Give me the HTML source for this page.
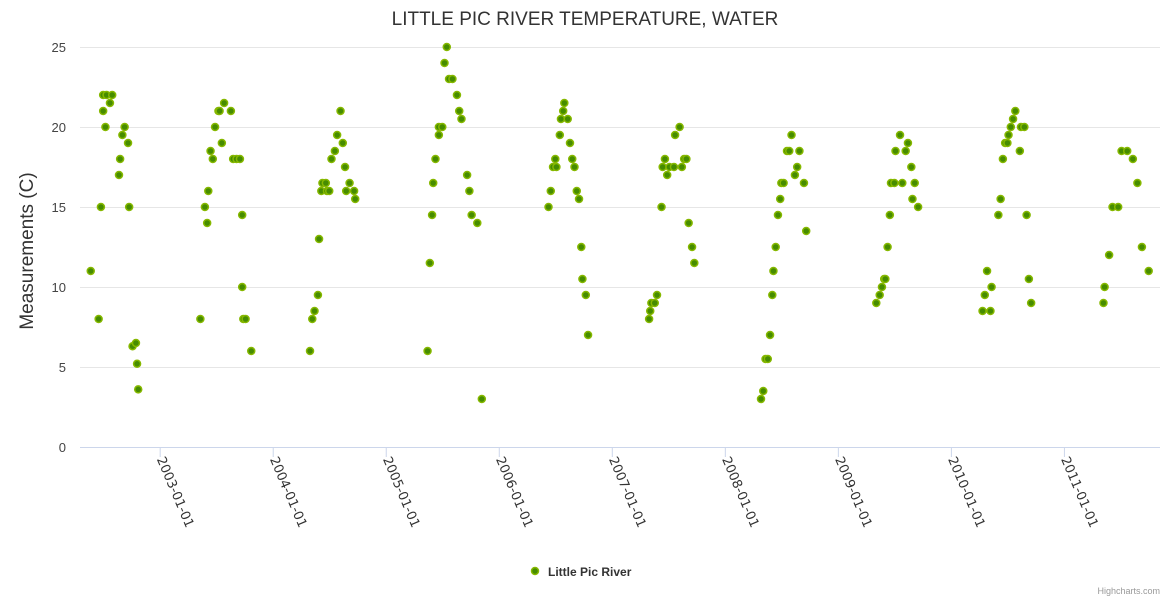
<!DOCTYPE html>
<html><head><meta charset="utf-8"><style>
body{margin:0;background:#fff;font-family:"Liberation Sans",sans-serif}
svg text{font-family:"Liberation Sans",sans-serif}
</style></head><body>
<svg id="chart" width="1170" height="600" xmlns="http://www.w3.org/2000/svg">
<text x="585" y="25" text-anchor="middle" font-size="19" fill="#333">LITTLE PIC RIVER TEMPERATURE, WATER</text>
<text transform="translate(33,251) rotate(-90)" text-anchor="middle" font-size="19" fill="#333">Measurements (C)</text>
<g id="grid"></g>
<g id="yt"></g>
<g id="xt"></g>
<g id="pts"></g>
<g>
<circle cx="535" cy="571" r="3.5" fill="#468c00" stroke="#86b800" stroke-width="1.5"/>
<text x="548" y="576" font-size="12" font-weight="bold" fill="#333">Little Pic River</text>
</g>
<text x="1160" y="594" text-anchor="end" font-size="9" fill="#999">Highcharts.com</text>
</svg>
<script>
const yTicks=[0,5,10,15,20,25];
const xTickYears=[2003,2004,2005,2006,2007,2008,2009,2010,2011];
const xTickLabels=["2003-01-01","2004-01-01","2005-01-01","2006-01-01","2007-01-01","2008-01-01","2009-01-01","2010-01-01","2011-01-01"];
const dates=[2002.39,2002.46,2002.48,2002.50,2002.50,2002.53,2002.58,2002.56,2002.52,2002.64,2002.65,2002.67,2002.69,2002.72,2002.73,2002.76,2002.79,2002.80,2002.81,
2003.36,2003.40,2003.42,2003.43,2003.45,2003.47,2003.49,2003.52,2003.53,2003.57,2003.55,2003.63,2003.65,2003.68,2003.71,2003.73,2003.73,2003.74,2003.76,2003.81,
2004.33,2004.35,2004.37,2004.40,2004.41,2004.43,2004.44,2004.47,2004.48,2004.50,2004.52,2004.55,2004.57,2004.60,2004.62,2004.64,2004.65,2004.68,2004.72,2004.73,
2005.37,2005.39,2005.41,2005.42,2005.44,2005.47,2005.47,2005.50,2005.52,2005.54,2005.56,2005.59,2005.63,2005.65,2005.67,2005.72,2005.74,2005.76,2005.81,2005.85,
2006.44,2006.46,2006.48,2006.51,2006.50,2006.54,2006.55,2006.61,2006.57,2006.58,2006.63,2006.65,2006.67,2006.69,2006.71,2006.73,2006.74,2006.77,2006.79,
2007.33,2007.34,2007.35,2007.38,2007.40,2007.44,2007.45,2007.47,2007.49,2007.51,2007.55,2007.56,2007.60,2007.62,2007.64,2007.66,2007.68,2007.71,2007.73,
2008.32,2008.34,2008.36,2008.38,2008.40,2008.42,2008.43,2008.45,2008.47,2008.49,2008.50,2008.52,2008.55,2008.57,2008.59,2008.62,2008.64,2008.66,2008.70,2008.72,
2009.34,2009.37,2009.39,2009.41,2009.42,2009.44,2009.46,2009.47,2009.50,2009.51,2009.60,2009.55,2009.57,2009.62,2009.65,2009.68,2009.66,2009.71,
2010.28,2010.35,2010.30,2010.32,2010.36,2010.42,2010.44,2010.46,2010.48,2010.50,2010.51,2010.53,2010.55,2010.57,2010.61,2010.62,2010.65,2010.67,2010.69,2010.71,
2011.35,2011.36,2011.40,2011.43,2011.48,2011.51,2011.56,2011.61,2011.65,2011.69,2011.75];
const temps=[11,8,15,21,22,22,22,21.5,20,17,18,19.5,20,19,15,6.3,6.5,5.2,3.6,
8,15,14,16,18.5,18,20,21,21,21.5,19,21,18,18,18,14.5,10,8,8,6,
6,8,8.5,9.5,13,16,16.5,16.5,16,16,18,18.5,19.5,21,19,17.5,16,16.5,16,15.5,
6,11.5,14.5,16.5,18,19.5,20,20,24,25,23,23,22,21,20.5,17,16,14.5,14,3,
15,16,17.5,17.5,18,19.5,20.5,20.5,21,21.5,19,18,17.5,16,15.5,12.5,10.5,9.5,7,
8,8.5,9,9,9.5,15,17.5,18,17,17.5,17.5,19.5,20,17.5,18,18,14,12.5,11.5,
3,3.5,5.5,5.5,7,9.5,11,12.5,14.5,15.5,16.5,16.5,18.5,18.5,19.5,17,17.5,18.5,16.5,13.5,
9,9.5,10,10.5,10.5,12.5,14.5,16.5,16.5,18.5,18.5,19.5,16.5,19,17.5,16.5,15.5,15,
8.5,8.5,9.5,11,10,14.5,15.5,18,19,19,19.5,20,20.5,21,18.5,20,20,14.5,10.5,9,
9,10,12,15,15,18.5,18.5,18,16.5,12.5,11];
const NS="http://www.w3.org/2000/svg";
const X0=80,X1=1160,T0=2002.295,T1=2011.85,Y0=447,Y1=47,V0=0,V1=25;
function xs(t){return X0+(t-T0)/(T1-T0)*(X1-X0);}
function ys(v){return Y0-(v-V0)/(V1-V0)*(Y0-Y1);}
function mk(tag,a,p){const e=document.createElementNS(NS,tag);for(const k in a)e.setAttribute(k,a[k]);p.appendChild(e);return e;}
const grid=document.getElementById('grid'),yt=document.getElementById('yt'),xt=document.getElementById('xt'),pts=document.getElementById('pts');
yTicks.forEach(v=>{
 const l=mk('line',{x1:X0,x2:X1,y1:ys(v)+0.5,y2:ys(v)+0.5,stroke:v===0?'#ccd6eb':'#e6e6e6','stroke-width':1},grid);
 
 
 const t=mk('text',{x:66,y:ys(v)+5,'text-anchor':'end','font-size':13,fill:'#444'},yt);
 
 
 t.textContent=v;
});
xTickYears.forEach((yr,i)=>{
 const x=xs(yr);
 const l=mk('line',{x1:x+0.5,x2:x+0.5,y1:Y0,y2:Y0+10,stroke:'#ccd6eb'},xt);
 
 
 const t=mk('text',{transform:`translate(${x-3},${Y0+12}) rotate(67)`,'font-size':13,fill:'#333',style:'font-family:"DejaVu Sans",sans-serif'},xt);
 
 
 t.textContent=xTickLabels[i];
});
dates.forEach((d,i)=>{
 const c=mk('circle',{cx:xs(d),cy:ys(temps[i]),r:3.5,fill:'#468c00',stroke:'#86b800','stroke-width':1.5},pts);
 
 
});
</script>
</body></html>
